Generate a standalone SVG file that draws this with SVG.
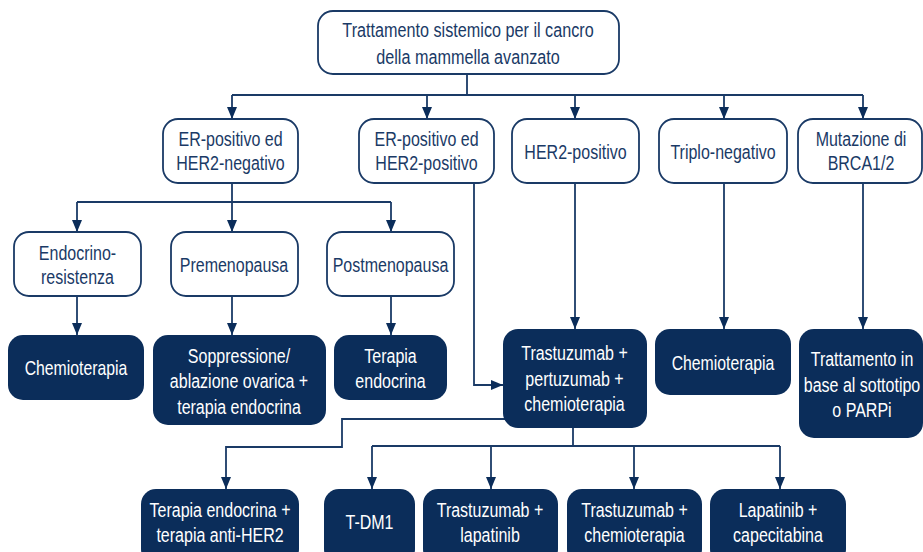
<svg xmlns="http://www.w3.org/2000/svg" width="923" height="552" viewBox="0 0 923 552">
<defs>
<style>
.o rect{fill:#fff;stroke:#1a3a66;stroke-width:1.8}
.f rect{fill:#0b2d5a;stroke:none}
text{font-family:"Liberation Sans",Arial,sans-serif;font-size:20px;text-anchor:middle}
.o text{fill:#1a3a66}
.f text{fill:#fff}
.c path{fill:none;stroke:#1a3a66;stroke-width:1.8}
</style>
<marker id="a" viewBox="0 0 12 10" refX="12" refY="5" markerWidth="12" markerHeight="10" markerUnits="userSpaceOnUse" orient="auto">
<path d="M0,0L12,5L0,10z" fill="#0b2d5a"/>
</marker>
</defs>

<g class="c">
<path d="M467,74V95M232,95H863"/>
<path d="M232,95V119" marker-end="url(#a)"/>
<path d="M427,95V119" marker-end="url(#a)"/>
<path d="M575,95V119" marker-end="url(#a)"/>
<path d="M724,95V119" marker-end="url(#a)"/>
<path d="M863,95V119" marker-end="url(#a)"/>
<path d="M232,183V202M77,202H391"/>
<path d="M77,202V232" marker-end="url(#a)"/>
<path d="M232,202V232" marker-end="url(#a)"/>
<path d="M391,202V232" marker-end="url(#a)"/>
<path d="M77,296V335" marker-end="url(#a)"/>
<path d="M232,296V335" marker-end="url(#a)"/>
<path d="M391,296V335" marker-end="url(#a)"/>
<path d="M474,183V385H503" marker-end="url(#a)"/>
<path d="M575,183V329" marker-end="url(#a)"/>
<path d="M724,183V329" marker-end="url(#a)"/>
<path d="M863,183V329" marker-end="url(#a)"/>
<path d="M573,428V446M372,446H780"/>
<path d="M372,446V489" marker-end="url(#a)"/>
<path d="M491,446V489" marker-end="url(#a)"/>
<path d="M634,446V489" marker-end="url(#a)"/>
<path d="M780,446V489" marker-end="url(#a)"/>
<path d="M505,419H342V447H226V489" marker-end="url(#a)"/>
</g>

<g id="n-root" class="o"><rect x="318" y="11" width="301" height="63" rx="15"/>
<text transform="translate(468 0) scale(0.81 1)"><tspan x="0" y="37">Trattamento sistemico per il cancro</tspan><tspan x="0" y="64">della mammella avanzato</tspan></text></g>

<g id="n-erpos-her2neg" class="o"><rect x="163" y="119" width="135" height="64" rx="15"/>
<text transform="translate(230.5 0) scale(0.8 1)"><tspan x="0" y="146">ER-positivo ed</tspan><tspan x="0" y="170">HER2-negativo</tspan></text></g>

<g id="n-erpos-her2pos" class="o"><rect x="359" y="119" width="135" height="64" rx="15"/>
<text transform="translate(426.5 0) scale(0.8 1)"><tspan x="0" y="146">ER-positivo ed</tspan><tspan x="0" y="170">HER2-positivo</tspan></text></g>

<g id="n-her2pos" class="o"><rect x="512" y="119" width="127" height="64" rx="15"/>
<text transform="translate(575.5 0) scale(0.8 1)"><tspan x="0" y="159">HER2-positivo</tspan></text></g>

<g id="n-triplo" class="o"><rect x="659" y="119" width="128" height="64" rx="15"/>
<text transform="translate(723 0) scale(0.8 1)"><tspan x="0" y="159">Triplo-negativo</tspan></text></g>

<g id="n-brca" class="o"><rect x="798" y="119" width="124" height="64" rx="15"/>
<text transform="translate(861 0) scale(0.8 1)"><tspan x="0" y="146">Mutazione di</tspan><tspan x="0" y="170">BRCA1/2</tspan></text></g>

<g id="n-endores" class="o"><rect x="14" y="232" width="127" height="64" rx="15"/>
<text transform="translate(77.5 0) scale(0.8 1)"><tspan x="0" y="260">Endocrino-</tspan><tspan x="0" y="284">resistenza</tspan></text></g>

<g id="n-premeno" class="o"><rect x="171" y="232" width="127" height="64" rx="15"/>
<text transform="translate(234 0) scale(0.8 1)"><tspan x="0" y="272">Premenopausa</tspan></text></g>

<g id="n-postmeno" class="o"><rect x="327" y="232" width="127" height="64" rx="15"/>
<text transform="translate(390.5 0) scale(0.8 1)"><tspan x="0" y="272">Postmenopausa</tspan></text></g>

<g id="n-chemio1" class="f"><rect x="8" y="335" width="136" height="65" rx="15"/>
<text transform="translate(76 0) scale(0.79 1)"><tspan x="0" y="375">Chemioterapia</tspan></text></g>

<g id="n-soppr" class="f"><rect x="153" y="335" width="173" height="90" rx="15"/>
<text transform="translate(239 0) scale(0.8 1)"><tspan x="0" y="363">Soppressione/</tspan><tspan x="0" y="388">ablazione ovarica +</tspan><tspan x="0" y="414">terapia endocrina</tspan></text></g>

<g id="n-terendo" class="f"><rect x="334" y="335" width="113" height="65" rx="15"/>
<text transform="translate(390.5 0) scale(0.8 1)"><tspan x="0" y="363">Terapia</tspan><tspan x="0" y="388">endocrina</tspan></text></g>

<g id="n-tpc" class="f"><rect x="503" y="329" width="144" height="99" rx="15"/>
<text transform="translate(574.5 0) scale(0.8 1)"><tspan x="0" y="360">Trastuzumab +</tspan><tspan x="0" y="386">pertuzumab +</tspan><tspan x="0" y="411">chemioterapia</tspan></text></g>

<g id="n-chemio2" class="f"><rect x="655" y="329" width="136" height="66" rx="15"/>
<text transform="translate(723 0) scale(0.79 1)"><tspan x="0" y="370">Chemioterapia</tspan></text></g>

<g id="n-parp" class="f"><rect x="799" y="329" width="124" height="109" rx="15"/>
<text transform="translate(862 0) scale(0.8 1)"><tspan x="0" y="366">Trattamento in</tspan><tspan x="0" y="392">base al sottotipo</tspan><tspan x="0" y="417">o PARPi</tspan></text></g>

<g id="n-endoher2" class="f"><rect x="141" y="489" width="158" height="75" rx="15"/>
<text transform="translate(220 0) scale(0.8 1)"><tspan x="0" y="517">Terapia endocrina +</tspan><tspan x="0" y="542">terapia anti-HER2</tspan></text></g>

<g id="n-tdm1" class="f"><rect x="324" y="489" width="91" height="75" rx="15"/>
<text transform="translate(369.5 0) scale(0.8 1)"><tspan x="0" y="529">T-DM1</tspan></text></g>

<g id="n-traslap" class="f"><rect x="423" y="489" width="135" height="75" rx="15"/>
<text transform="translate(490 0) scale(0.8 1)"><tspan x="0" y="517">Trastuzumab +</tspan><tspan x="0" y="542">lapatinib</tspan></text></g>

<g id="n-trachemio" class="f"><rect x="567" y="489" width="135" height="75" rx="15"/>
<text transform="translate(634.5 0) scale(0.8 1)"><tspan x="0" y="517">Trastuzumab +</tspan><tspan x="0" y="542">chemioterapia</tspan></text></g>

<g id="n-lapcap" class="f"><rect x="710" y="489" width="136" height="75" rx="15"/>
<text transform="translate(778 0) scale(0.8 1)"><tspan x="0" y="517">Lapatinib +</tspan><tspan x="0" y="542">capecitabina</tspan></text></g>
</svg>
